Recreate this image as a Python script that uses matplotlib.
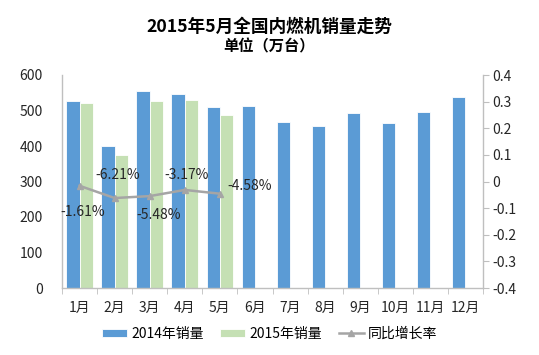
import numpy as np
import matplotlib
matplotlib.use('Agg')
import matplotlib.pyplot as plt

plt.rcParams['font.family'] = ['Noto Sans CJK SC', 'DejaVu Sans']

months = ['1月', '2月', '3月', '4月', '5月', '6月', '7月', '8月', '9月', '10月', '11月', '12月']
sales_2014 = [527, 401, 556, 546, 511, 514, 469, 455, 494, 465, 495, 538]
sales_2015 = [521, 376, 526, 530, 488]
growth = [-0.0161, -0.0621, -0.0548, -0.0317, -0.0458]
growth_labels = ['-1.61%', '-6.21%', '-5.48%', '-3.17%', '-4.58%']

blue = '#5B9BD5'
green = '#C5E0B4'
grey_line = '#A5A5A5'
axis_col = '#BFBFBF'

fig = plt.figure(figsize=(5.39, 3.55), dpi=100)
ax = fig.add_axes([62/539, 1-288/355, (483-62)/539, (288-75)/355])
ax2 = ax.twinx()

x = np.arange(len(months))
w = 0.38
ax.bar(x[:len(sales_2014)] - w/2, sales_2014, w, color=blue, edgecolor='white', linewidth=0.6, label='2014年销量')
ax.bar(x[:len(sales_2015)] + w/2, sales_2015, w, color=green, edgecolor='white', linewidth=0.6, label='2015年销量')

ln, = ax2.plot(x[:len(growth)], growth, color=grey_line, lw=1.8, marker='^', ms=5, label='同比增长率')

# data labels for the growth line
offsets = [(0.08, -0.099), (0.1, 0.086), (0.24, -0.071), (0.05, 0.056), (0.86, 0.03)]
for i, (g, lab) in enumerate(zip(growth, growth_labels)):
    dx, dy = offsets[i]
    ax2.text(x[i] + dx, g + dy, lab, ha='center', va='center', fontsize=10, color='#262626')

ax.set_xlim(-0.5, len(months) - 0.5)
ax.set_ylim(0, 600)
ax.set_yticks(range(0, 601, 100))
ax2.set_ylim(-0.4, 0.4)
ax2.set_yticks(np.arange(-0.4, 0.41, 0.1))
ax2.set_yticklabels(['-0.4', '-0.3', '-0.2', '-0.1', '0', '0.1', '0.2', '0.3', '0.4'])

ax.set_xticks(x)
ax.set_xticklabels(months)
ax.set_xticks(np.arange(-0.5, len(months), 1), minor=True)
ax.tick_params(axis='x', which='major', length=0, pad=9, labelsize=10, colors='#262626')
ax.tick_params(axis='x', which='minor', length=4, color=axis_col, direction='out')
ax.tick_params(axis='y', length=0, pad=14, labelsize=10, colors='#262626')
ax2.tick_params(axis='y', length=4, color=axis_col, pad=3, labelsize=10, colors='#262626')

for a in (ax, ax2):
    a.spines['top'].set_visible(False)
    for s in ('left', 'right', 'bottom'):
        a.spines[s].set_color(axis_col)
        a.spines[s].set_linewidth(1)
ax.spines['right'].set_visible(False)
ax2.spines['left'].set_visible(False)
ax2.spines['bottom'].set_visible(False)

fig.text(0.5, 1-27/355, '2015年5月全国内燃机销量走势', ha='center', va='center', fontsize=12.7, fontweight='bold')
fig.text(0.5, 1-46/355, '单位（万台）', ha='center', va='center', fontsize=11, fontweight='bold')

h1, l1 = ax.get_legend_handles_labels()
fig.legend(h1 + [ln], l1 + ['同比增长率'], loc='center', bbox_to_anchor=(0.5, 1-334/355),
           ncol=3, frameon=False, fontsize=10, handlelength=1.8, handleheight=0.55,
           columnspacing=1.2, handletextpad=0.3)

fig.savefig('out.png', dpi=100)
